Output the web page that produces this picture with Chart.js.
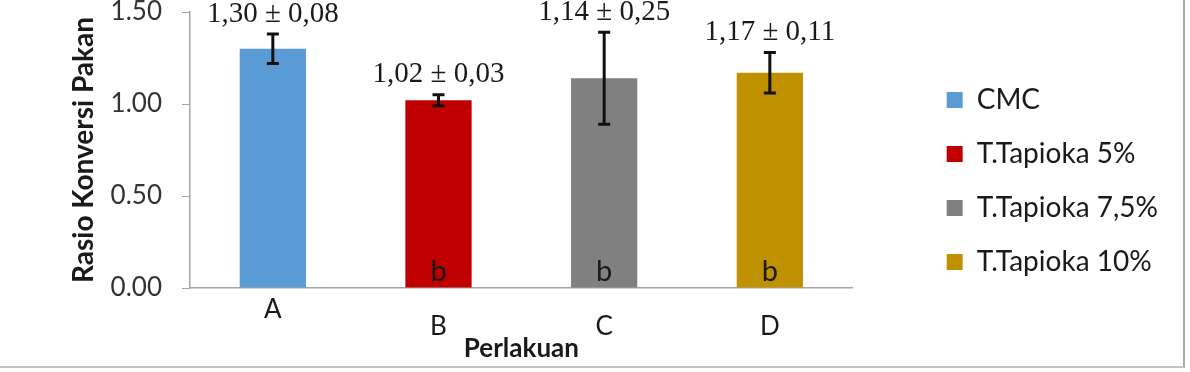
<!DOCTYPE html>
<html>
<head>
<meta charset="utf-8">
<script src="https://cdn.jsdelivr.net/npm/chart.js@4"></script>
<style>
  body { margin: 0; background: #fff; }
  #wrap { position: absolute; left: 0; top: 0; width: 1183px; height: 366px;
          border-right: 2px solid #a8a8a8; border-bottom: 2px solid #c4c4c4; }
</style>
</head>
<body>
<div id="wrap"><canvas id="grafik"></canvas></div>
<script>
// data
const categories = ['A', 'B', 'C', 'D'];
const seriesNames = ['CMC', 'T.Tapioka 5%', 'T.Tapioka 7,5%', 'T.Tapioka 10%'];
const means = [1.30, 1.02, 1.14, 1.17];
const sds = [0.08, 0.03, 0.25, 0.11];
const letters = ['', 'b', 'b', 'b'];
const colors = ['#5b9bd5', '#c00000', '#808080', '#bf9000'];
const yTicks = [0, 0.5, 1.0, 1.5];

const FONT = 'Lato';
const fmt = v => v.toFixed(2).replace('.', ',');

// one dataset per series, each only filled at its own category
const datasets = seriesNames.map((nome, i) => ({
  label: nome,
  data: categories.map((_, j) => (j === i ? means[i] : null)),
  backgroundColor: colors[i],
  borderWidth: 0
}));

// error bars, "mean ± sd" labels and letters
const errorBars = {
  id: 'errorBars',
  afterDatasetsDraw(chart) {
    const ctx = chart.ctx;
    const y = chart.scales.y;
    ctx.save();
    datasets.forEach((ds, i) => {
      const bar = chart.getDatasetMeta(i).data[i];
      if (!bar) return;
      const x = bar.x;
      const top = y.getPixelForValue(means[i] + sds[i]);
      const bot = y.getPixelForValue(means[i] - sds[i]);
      ctx.strokeStyle = '#111';
      ctx.lineWidth = 3;
      ctx.beginPath();
      ctx.moveTo(x, top); ctx.lineTo(x, bot);
      ctx.moveTo(x - 6, top); ctx.lineTo(x + 6, top);
      ctx.moveTo(x - 6, bot); ctx.lineTo(x + 6, bot);
      ctx.stroke();

      ctx.fillStyle = '#1a1a1a';
      ctx.textAlign = 'center';
      ctx.textBaseline = 'middle';
      ctx.font = '29px "Liberation Serif"';
      ctx.fillText(fmt(means[i]) + ' \u00b1 ' + fmt(sds[i]), x, top - 20);

      if (letters[i]) {
        ctx.textBaseline = 'alphabetic';
        ctx.font = '29px ' + FONT;
        ctx.fillText(letters[i], x, y.getPixelForValue(0) - 7);
      }
    });
    ctx.restore();
  }
};

function gerarGrafico() {
  new Chart(document.getElementById('grafik'), {
    type: 'bar',
    data: { labels: categories, datasets: datasets },
    plugins: [errorBars],
    options: {
      responsive: true,
      maintainAspectRatio: false,
      animation: false,
      layout: { padding: { top: 12, right: 15, bottom: 0, left: 0 } },
      datasets: { bar: { grouped: false, categoryPercentage: 1, barPercentage: 0.4 } },
      plugins: {
        tooltip: { enabled: false },
        legend: {
          position: 'right',
          maxWidth: 320,
          // empty title with negative padding just lifts the items a bit
          title: { display: true, text: '', font: { size: 1, lineHeight: 1 }, padding: { top: -8.5, bottom: -8.5 } },
          labels: {
            boxWidth: 16, boxHeight: 16, padding: 26, color: '#1a1a1a',
            font: { family: FONT, size: 28 }
          }
        }
      },
      scales: {
        x: {
          grid: { display: false, drawTicks: false },
          border: { color: '#a6a6a6', width: 1.5 },
          ticks: {
            padding: 13, color: '#1a1a1a',
            font: { family: FONT, size: 26, lineHeight: 0.65 },
            // A sits one line higher than B, C, D in the reference
            callback: (v, i) => (i === 0 ? categories[i] : ['', categories[i]])
          },
          title: {
            display: true, text: 'Perlakuan', color: '#1a1a1a',
            font: { family: FONT, size: 26, weight: 'bold' },
            padding: { top: 0, bottom: 2 }
          },
          afterFit: s => { s.height = 78; }
        },
        y: {
          min: 0, max: 1.5,
          afterBuildTicks: s => { s.ticks = yTicks.map(v => ({ value: v })); },
          // long tick slot, dashed so only the 8px next to the axis shows
          grid: {
            drawOnChartArea: false, drawTicks: true, tickLength: 28, color: '#a6a6a6',
            tickBorderDash: [8, 20], tickBorderDashOffset: 8
          },
          border: { color: '#a6a6a6', width: 1.5 },
          ticks: {
            padding: 0, color: '#333',
            font: { family: FONT, size: 26, lineHeight: 0.9 },
            callback: v => v.toFixed(2)
          },
          title: {
            display: true, text: 'Rasio Konversi Pakan', color: '#1a1a1a',
            font: { family: FONT, size: 28, weight: 'bold' },
            padding: { top: 67, bottom: 0 }
          },
          afterFit: s => { s.width = 190; }
        },
        // empty spacer axis: keeps the gap between plot and legend
        y2: {
          position: 'right', display: true,
          grid: { display: false, drawTicks: false },
          border: { display: false },
          ticks: { display: false },
          afterFit: s => { s.width = 68; }
        }
      }
    }
  });
}

Promise.all([
  document.fonts.load('26px Lato'),
  document.fonts.load('bold 26px Lato'),
  document.fonts.load('29px "Liberation Serif"')
]).then(gerarGrafico, gerarGrafico);
</script>
</body>
</html>
